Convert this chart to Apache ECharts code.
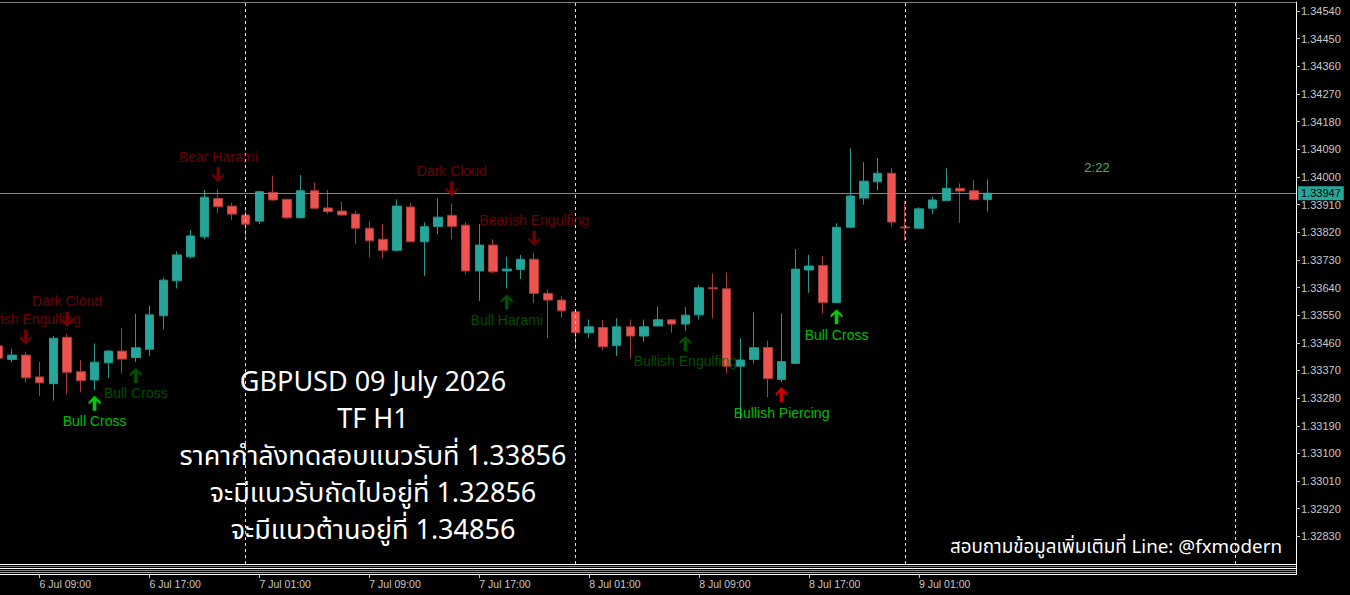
<!DOCTYPE html>
<html>
<head>
<meta charset="utf-8">
<title>GBPUSD H1</title>
<script src="https://cdn.jsdelivr.net/npm/echarts@6.0.0/dist/echarts.min.js"></script>
<style>
    html, body { margin: 0; padding: 0; background: #000; }
    #chart1 { width: 1350px; height: 595px; }
</style>
</head>
<body>
<div id="chart1"></div>
<script>
// bar time = hours counted from 6 Jul 00:00 (one H1 bar per hour)
var hours = [6, 7, 8, 9, 10, 11, 12, 13, 14, 15, 16, 17, 18, 19, 20, 21, 22, 23, 24, 25,
    26, 27, 28, 29, 30, 31, 32, 33, 34, 35, 36, 37, 38, 39, 40, 41, 42, 43, 44, 45,
    46, 47, 48, 49, 50, 51, 52, 53, 54, 55, 56, 57, 58, 59, 60, 61, 62, 63, 64, 65,
    66, 67, 68, 69, 70, 71, 72, 73, 74, 75, 76, 77, 78];
var opens = [1.33450, 1.33406, 1.33420, 1.33349, 1.33327, 1.33478, 1.33366, 1.33339, 1.33395, 1.33433,
    1.33412, 1.33439, 1.33548, 1.33662, 1.33740, 1.33805, 1.33930, 1.33905, 1.33876, 1.33856,
    1.33950, 1.33927, 1.33867, 1.33955, 1.33899, 1.33889, 1.33879, 1.33833, 1.33797, 1.33761,
    1.33902, 1.33789, 1.33839, 1.33875, 1.33843, 1.33694, 1.33778, 1.33694, 1.33699, 1.33732,
    1.33621, 1.33599, 1.33561, 1.33493, 1.33510, 1.33451, 1.33512, 1.33482, 1.33515, 1.33535,
    1.33521, 1.33551, 1.33639, 1.33636, 1.33384, 1.33406, 1.33445, 1.33341, 1.33393, 1.33697,
    1.33712, 1.33591, 1.33836, 1.33931, 1.33984, 1.34012, 1.33837, 1.33833, 1.33898, 1.33923,
    1.33963, 1.33955, 1.33926];
var closes = [1.33410, 1.33420, 1.33346, 1.33330, 1.33475, 1.33364, 1.33337, 1.33397, 1.33433, 1.33407,
    1.33444, 1.33551, 1.33664, 1.33746, 1.33808, 1.33934, 1.33903, 1.33879, 1.33846, 1.33952,
    1.33925, 1.33867, 1.33955, 1.33898, 1.33887, 1.33876, 1.33833, 1.33792, 1.33761, 1.33905,
    1.33789, 1.33838, 1.33869, 1.33839, 1.33694, 1.33778, 1.33691, 1.33700, 1.33732, 1.33621,
    1.33599, 1.33564, 1.33493, 1.33512, 1.33447, 1.33512, 1.33482, 1.33512, 1.33535, 1.33521,
    1.33550, 1.33639, 1.33636, 1.33384, 1.33404, 1.33444, 1.33344, 1.33399, 1.33700, 1.33710,
    1.33591, 1.33836, 1.33938, 1.33986, 1.34012, 1.33853, 1.33834, 1.33896, 1.33925, 1.33963,
    1.33954, 1.33926, 1.33947];
var lows = [1.33405, 1.33397, 1.33330, 1.33287, 1.33272, 1.33293, 1.33299, 1.33306, 1.33346, 1.33361,
    1.33398, 1.33418, 1.33504, 1.33637, 1.33735, 1.33797, 1.33882, 1.33860, 1.33795, 1.33846,
    1.33922, 1.33863, 1.33865, 1.33896, 1.33879, 1.33874, 1.33781, 1.33738, 1.33736, 1.33757,
    1.33788, 1.33678, 1.33813, 1.33797, 1.33683, 1.33596, 1.33686, 1.33637, 1.33668, 1.33589,
    1.33475, 1.33542, 1.33439, 1.33477, 1.33437, 1.33417, 1.33410, 1.33464, 1.33513, 1.33493,
    1.33499, 1.33536, 1.33540, 1.33361, 1.33211, 1.33393, 1.33283, 1.33333, 1.33392, 1.33623,
    1.33556, 1.33589, 1.33833, 1.33910, 1.33957, 1.33838, 1.33792, 1.33832, 1.33879, 1.33922,
    1.33851, 1.33923, 1.33887];
var highs = [1.33452, 1.33440, 1.33431, 1.33398, 1.33482, 1.33489, 1.33404, 1.33458, 1.33437, 1.33507,
    1.33554, 1.33581, 1.33672, 1.33757, 1.33827, 1.33957, 1.33960, 1.33916, 1.33900, 1.33955,
    1.34004, 1.33930, 1.34006, 1.33982, 1.33957, 1.33919, 1.33889, 1.33856, 1.33847, 1.33927,
    1.33914, 1.33852, 1.33930, 1.33914, 1.33854, 1.33847, 1.33797, 1.33740, 1.33746, 1.33753,
    1.33634, 1.33612, 1.33563, 1.33536, 1.33534, 1.33540, 1.33536, 1.33536, 1.33578, 1.33536,
    1.33576, 1.33648, 1.33686, 1.33689, 1.33475, 1.33559, 1.33467, 1.33556, 1.33765, 1.33746,
    1.33743, 1.33849, 1.34093, 1.34048, 1.34061, 1.34028, 1.33922, 1.33901, 1.33936, 1.34028,
    1.33979, 1.33990, 1.33992];

var timeTicks = [9, 17, 25, 33, 41, 49, 57, 65, 73];
var timeTickLabels = ['6 Jul 09:00', '6 Jul 17:00', '7 Jul 01:00', '7 Jul 09:00', '7 Jul 17:00',
    '8 Jul 01:00', '8 Jul 09:00', '8 Jul 17:00', '9 Jul 01:00'];
var dayBreaks = [24, 48, 72, 96];
var priceTicks = [1.34540, 1.34450, 1.34360, 1.34270, 1.34180, 1.34090, 1.34000, 1.33910, 1.33820, 1.33730,
    1.33640, 1.33550, 1.33460, 1.33370, 1.33280, 1.33190, 1.33100, 1.33010, 1.32920, 1.32830];
var bidPrice = 1.33947;

// pattern signals: bar, arrow level, text, kind
var annoHours = [8, 11, 13, 16, 22, 39, 43, 45, 56, 63, 67];
var annoPrices = [1.33479, 1.33536, 1.33263, 1.33354, 1.34007, 1.33961, 1.33593, 1.33800, 1.33458, 1.33291, 1.33545];
var annoTexts = ['Bearish Engulfing', 'Dark Cloud', 'Bull Cross', 'Bull Cross', 'Bear Harami', 'Dark Cloud',
    'Bull Harami', 'Bearish Engulfing', 'Bullish Engulfing', 'Bullish Piercing', 'Bull Cross'];
var annoKinds = ['bear', 'bear', 'bullLime', 'bullDark', 'bear', 'bear', 'bullDark', 'bear', 'bullDark', 'piercing', 'bullLime'];

var noteLines = ['GBPUSD 09 July 2026', 'TF H1', 'ราคากำลังทดสอบแนวรับที่ 1.33856',
    'จะมีแนวรับถัดไปอยู่ที่ 1.32856', 'จะมีแนวต้านอยู่ที่ 1.34856'];
var contactText = 'สอบถามข้อมูลเพิ่มเติมที่ Line: @fxmodern';
var timerText = '2:22';

var chart1 = echarts.init(document.getElementById('chart1'), null, {renderer: 'svg'});
var thaiFont = '"Noto Sans Thai", "Noto Sans", sans-serif';
var axisFont = '"Liberation Sans", Arial, sans-serif';
var upArrow = 'path://M5,0 L10,5.5 L10,8 L6.5,4.8 L6.5,14 L3.5,14 L3.5,4.8 L0,8 L0,5.5 Z';
var downArrow = 'path://M5,14 L10,8.5 L10,6 L6.5,9.2 L6.5,0 L3.5,0 L3.5,9.2 L0,6 L0,8.5 Z';
var kindStyle = {
    bear: {arrow: '#8b0000', text: '#8b0000', down: true},
    bullDark: {arrow: '#006400', text: '#006400', down: false},
    bullLime: {arrow: '#00ff00', text: '#00ee00', down: false},
    piercing: {arrow: '#ff0000', text: '#00ee00', down: false}
};

var candleData = hours.map(function (h, i) {
    return [h, opens[i], closes[i], lows[i], highs[i]];
});
var annoData = annoHours.map(function (h, i) {
    var st = kindStyle[annoKinds[i]];
    return {
        value: [h, annoPrices[i]],
        symbol: st.down ? downArrow : upArrow,
        itemStyle: {color: st.arrow},
        label: {
            show: true,
            formatter: annoTexts[i],
            color: st.text,
            offset: [0, st.down ? -18 : 18]
        }
    };
});
// day separators (dashed) + bid line with its price box
var markLines = dayBreaks.map(function (d) {
    return {xAxis: d, label: {show: false}};
});
markLines.push({
    yAxis: bidPrice,
    lineStyle: {color: '#3aa59b', width: 1, type: 'solid'},
    label: {
        show: true, position: 'end', distance: 2, formatter: bidPrice.toFixed(5),
        backgroundColor: '#26a69a', color: '#000', padding: [2, 3, 1, 3],
        fontSize: 11, fontFamily: axisFont
    }
});

var xMin = 6.118, xMax = 100.44;
var option = {
    backgroundColor: '#000',
    animation: false,
    grid: {left: 0, right: 54, top: 2, bottom: 31, containLabel: false, outerBoundsMode: 'none'},
    xAxis: [{
        type: 'value', min: xMin, max: xMax, position: 'bottom',
        axisLine: {show: true, lineStyle: {color: '#ffffff', width: 1}},
        axisTick: {show: false}, axisLabel: {show: false}, splitLine: {show: false}
    }, {
        type: 'value', min: xMin, max: xMax, position: 'bottom', offset: 10,
        axisLine: {show: true, lineStyle: {color: '#ffffff', width: 1}},
        axisTick: {show: true, customValues: timeTicks, length: 4, lineStyle: {color: '#c8c8c8'}},
        axisLabel: {
            show: true, customValues: timeTicks, align: 'left', margin: 4,
            color: '#c8c8c8', fontSize: 10.5, fontFamily: axisFont,
            formatter: function (v) {
                var k = timeTicks.indexOf(Math.round(v));
                return k >= 0 ? timeTickLabels[k] : '';
            }
        },
        splitLine: {show: false}
    }, {
        type: 'value', min: xMin, max: xMax, position: 'top',
        axisLine: {show: true, lineStyle: {color: '#808080', width: 1}},
        axisTick: {show: false}, axisLabel: {show: false}, splitLine: {show: false}
    }],
    yAxis: {
        type: 'value', position: 'right', min: 1.327401, max: 1.345693, scale: true,
        axisLine: {show: true, lineStyle: {color: '#ffffff', width: 1}},
        axisTick: {show: true, customValues: priceTicks, length: 4, lineStyle: {color: '#c8c8c8'}},
        axisLabel: {
            show: true, customValues: priceTicks, margin: 5,
            color: '#c8c8c8', fontSize: 11, fontFamily: axisFont,
            formatter: function (v) { return v.toFixed(5); }
        },
        splitLine: {show: false}
    },
    series: [{
        type: 'candlestick',
        data: candleData,
        encode: {x: 0, y: [1, 2, 3, 4]},
        barWidth: 9,
        itemStyle: {
            color: '#26a69a', color0: '#ef5350',
            borderColor: '#229a8e', borderColor0: '#a83c3a', borderWidth: 1
        }
    }, {
        type: 'scatter',
        data: annoData,
        symbolSize: [12, 15],
        z: 5,
        label: {position: 'inside', fontSize: 14, fontFamily: axisFont},
        markLine: {
            silent: true, symbol: ['none', 'none'], animation: false, precision: 5,
            lineStyle: {color: '#e0e0e0', width: 1, type: [3, 3]},
            data: markLines
        }
    }],
    graphic: [
        {type: 'line', silent: true, shape: {x1: 0, y1: 566.5, x2: 1296, y2: 566.5}, style: {stroke: '#808080', lineWidth: 1}},
        {type: 'line', silent: true, shape: {x1: 0, y1: 568.5, x2: 1296, y2: 568.5}, style: {stroke: '#ffffff', lineWidth: 1}},
        {type: 'line', silent: true, shape: {x1: 0, y1: 570.5, x2: 1296, y2: 570.5}, style: {stroke: '#808080', lineWidth: 1}},
        {type: 'line', silent: true, shape: {x1: 0, y1: 572.5, x2: 1296, y2: 572.5}, style: {stroke: '#a8a8a8', lineWidth: 1}},
        {type: 'line', silent: true, shape: {x1: 1296.5, y1: 563, x2: 1296.5, y2: 575}, style: {stroke: '#ffffff', lineWidth: 1}},
        {
            type: 'text', silent: true, x: 373, y: 364,
            style: {
                text: noteLines.join('\n'), fill: '#ffffff', fontSize: 27, fontFamily: thaiFont,
                align: 'center', verticalAlign: 'top', lineHeight: 37
            }
        },
        {
            type: 'text', silent: true, x: 1282, y: 547,
            style: {
                text: contactText, fill: '#ffffff', fontSize: 18.8, fontFamily: thaiFont,
                align: 'right', verticalAlign: 'middle'
            }
        },
        {
            type: 'text', silent: true, x: 1097, y: 167,
            style: {
                text: timerText, fill: '#3cb371', fontSize: 13, fontFamily: axisFont,
                align: 'center', verticalAlign: 'middle'
            }
        }
    ]
};
chart1.setOption(option, true);
</script>
</body>
</html>
